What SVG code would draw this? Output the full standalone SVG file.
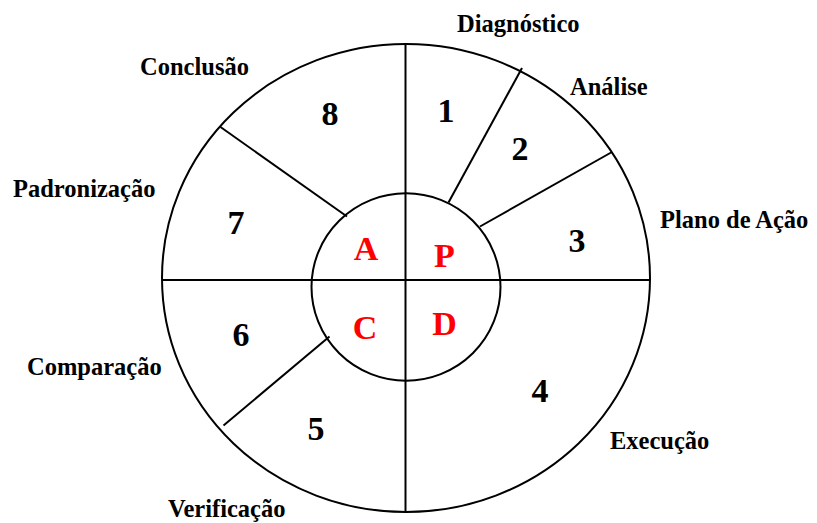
<svg xmlns="http://www.w3.org/2000/svg" width="817" height="523" viewBox="0 0 817 523">
<style>
.ln{stroke:#000;stroke-width:2;fill:none}
.lbl{font-family:"Liberation Serif","Times New Roman",serif;font-weight:bold;font-size:24.5px;fill:#000}
.num{font-family:"Liberation Serif","Times New Roman",serif;font-weight:bold;font-size:34px;fill:#000;text-anchor:middle}
.pdca{font-family:"Liberation Serif","Times New Roman",serif;font-weight:bold;font-size:34px;fill:#ff0000;text-anchor:middle}
</style>
<rect width="817" height="523" fill="#fff"/>
<g id="outer"><ellipse class="ln" cx="406" cy="278" rx="244" ry="234"/></g>
<g id="connectors">
<line class="ln" x1="405.5" y1="44" x2="405.5" y2="512"/>
<line class="ln" x1="162" y1="280" x2="650" y2="280"/>
<line class="ln" x1="448.5" y1="202.5" x2="522" y2="68"/>
<line class="ln" x1="480" y1="226.5" x2="612" y2="152"/>
<line class="ln" x1="347" y1="216.5" x2="220.5" y2="127"/>
<line class="ln" x1="329.5" y1="336.5" x2="223.5" y2="425.5"/>
</g>
<g id="inner"><ellipse class="ln" cx="406" cy="287" rx="94.5" ry="93.7"/></g>
<g id="seg1"><text class="num" x="446" y="122">1</text><text class="lbl" x="457" y="32">Diagnóstico</text></g>
<g id="seg2"><text class="num" x="520" y="160">2</text><text class="lbl" x="570" y="95">Análise</text></g>
<g id="seg3"><text class="num" x="577" y="252">3</text><text class="lbl" x="660" y="228">Plano de Ação</text></g>
<g id="seg4"><text class="num" x="540" y="402">4</text><text class="lbl" x="610" y="449">Execução</text></g>
<g id="seg5"><text class="num" x="316" y="440">5</text><text class="lbl" x="168" y="517">Verificação</text></g>
<g id="seg6"><text class="num" x="241" y="346">6</text><text class="lbl" x="27" y="375">Comparação</text></g>
<g id="seg7"><text class="num" x="236" y="234">7</text><text class="lbl" x="13" y="197">Padronização</text></g>
<g id="seg8"><text class="num" x="330" y="125">8</text><text class="lbl" x="140" y="75">Conclusão</text></g>
<g id="pdca">
<text class="pdca" x="366" y="260">A</text>
<text class="pdca" x="444.5" y="267">P</text>
<text class="pdca" x="365" y="339">C</text>
<text class="pdca" x="444.5" y="335">D</text>
</g>
</svg>
